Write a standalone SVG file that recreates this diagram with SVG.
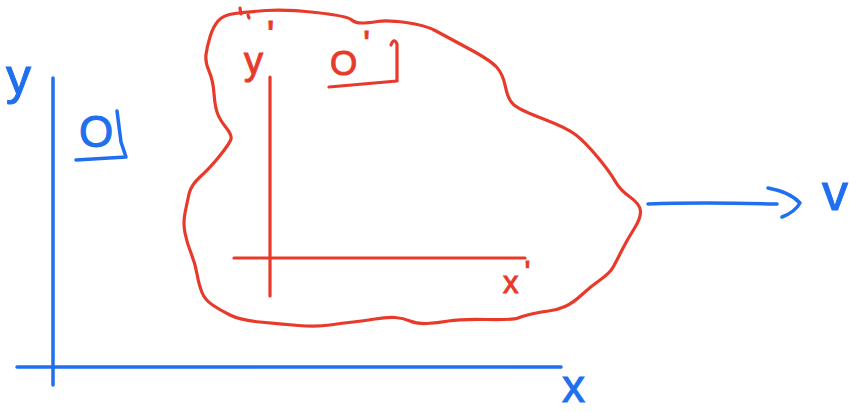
<svg xmlns="http://www.w3.org/2000/svg" width="868" height="412" viewBox="0 0 868 412">
<style>
.b{stroke:#1F6FEF;fill:none;stroke-width:3.5;stroke-linecap:round;stroke-linejoin:round}
.r{stroke:#E83A2A;fill:none;stroke-width:3.2;stroke-linecap:round;stroke-linejoin:round}
.bt{fill:#1F6FEF;stroke:#1F6FEF;stroke-width:1;font-family:"Liberation Sans",Arial,sans-serif}
.rt{fill:#E83A2A;stroke:#E83A2A;stroke-width:1;font-family:"Liberation Sans",Arial,sans-serif}
</style>
<rect width="868" height="412" fill="#fff"/>
<g id="frame-S">
  <path class="b" d="M53,78 L53,385"/>
  <path class="b" d="M17,367 L561,367"/>
  <text class="bt" x="6" y="94" font-size="50">y</text>
  <text class="bt" x="79" y="147" font-size="44">O</text>
  <path class="b" d="M117,111 L121,142 L126,157 L76,160"/>
  <text class="bt" x="562" y="402" font-size="46">x</text>
</g>
<g id="frame-S-prime">
  <path class="r" d="M218,21 Q223,15 235,13.5 Q247,12 266,10.5 Q285,9 316,12.5 Q347,16 351,19.5 Q355,23 361.5,23 Q368,23 377.5,21.5 Q387,20 406,22.5 Q425,25 436,31 Q447,37 468.5,48.5 Q490,60 496.5,67 Q503,74 505.5,87 Q508,100 514,105 Q520,110 543.5,119 Q567,128 576,135 Q585,142 597.5,157 Q610,172 615,181 Q620,190 630,197 Q640,204 640.5,211 Q641,218 634,229 Q627,240 622,250 Q617,260 613.5,266.5 Q610,273 600,280 Q590,287 581.5,295 Q573,303 565,306.5 Q557,310 548.5,311 Q540,312 531.5,314 Q523,316 518,318 Q513,320 486.5,319.5 Q460,319 448.5,321 Q437,323 427,323.5 Q417,324 410,321 Q403,318 395,317.5 Q387,317 375,319 Q363,321 353,322 Q343,323 330,325 Q317,327 298.5,325.5 Q280,324 260,322 Q240,320 230,315 Q220,310 212.5,305 Q205,300 202,292.5 Q199,285 197,274 Q195,263 191,253 Q187,243 185,233 Q183,223 185,213 Q187,203 189,194 Q191,185 200.5,176.5 Q210,168 220,155.5 Q230,143 231,139 Q232,135 226,127.5 Q220,120 217.5,113.5 Q215,107 214,93.5 Q213,80 209,71 Q205,62 206,54.5 Q207,47 210,37 Q213,27 218,21 Z"/>
  <path class="r" d="M240,8 L241,14 M248,15 L249,18"/>
  <path class="r" d="M270,77 L270,296"/>
  <path class="r" d="M234,258 L525,258"/>
  <text class="rt" x="244" y="74" font-size="38">y<tspan dx="4" dy="-26">'</tspan></text>
  <text class="rt" x="330" y="75" font-size="35">O<tspan dx="6" dy="-20">'</tspan></text>
  <path class="r" d="M391,45 Q394,37 397,44 L397,81 L329,87"/>
  <text class="rt" x="503" y="293" font-size="31">x<tspan dx="6" dy="-10">'</tspan></text>
</g>
<g id="connectors">
  <path class="b" d="M648,204 Q700,202 777,204"/>
  <path class="b" d="M768,188 Q790,192 800,203 Q795,212 782,217"/>
</g>
<g id="velocity-label">
  <text class="bt" x="822" y="210" font-size="52">v</text>
</g>
</svg>
